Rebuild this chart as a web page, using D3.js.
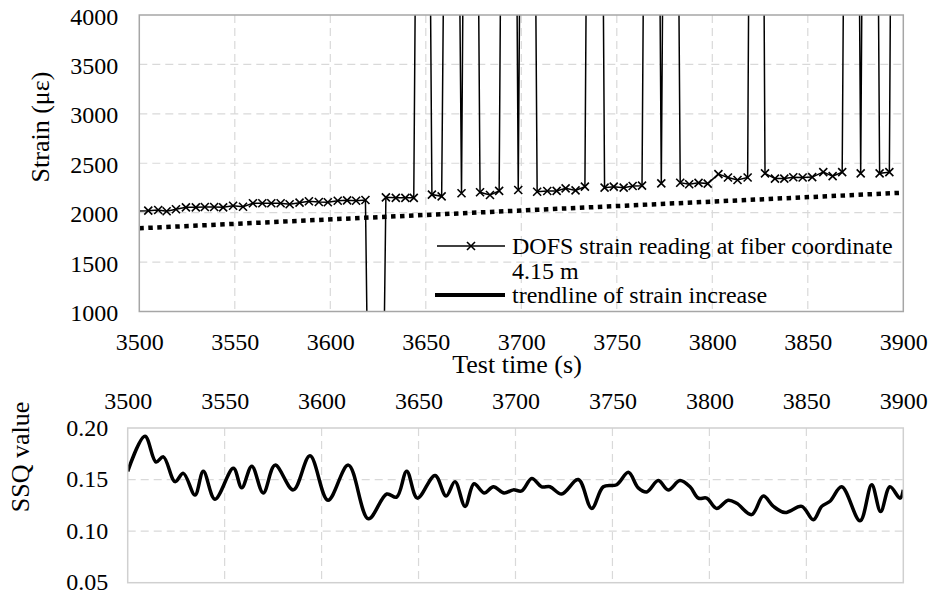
<!DOCTYPE html>
<html>
<head>
<meta charset="utf-8">
<script src="https://cdn.jsdelivr.net/npm/d3@7"></script>
<style>
  html, body { margin: 0; padding: 0; background: #fff; }
  svg { display: block; }
  svg text { font-family: "Liberation Serif", "Times New Roman", serif; fill: #000; }
</style>
</head>
<body>
<svg id="chart" width="928" height="595"></svg>
<script>
// Test time axis ticks (s)
const timeTicks = [3500, 3550, 3600, 3650, 3700, 3750, 3800, 3850, 3900];
const strainTicks = [1000, 1500, 2000, 2500, 3000, 3500, 4000];
const ssqTicks = [0.05, 0.10, 0.15, 0.20];

// DOFS strain reading at fiber coordinate 4.15 m (time in s, strain in µε)
const strainTime = [
  3499.8, 3504.7, 3509.9, 3514.3, 3519.2, 3524.4, 3529.6, 3534.3, 3539.2, 3543.9,
  3549.1, 3554.3, 3559.5, 3564.4, 3569.1, 3574.0, 3578.7, 3583.9, 3588.8, 3594.0,
  3598.7, 3603.9, 3608.8, 3613.5, 3618.4, 3623.8, 3629.1, 3634.3, 3639.3, 3643.7,
  3648.5, 3653.2, 3658.3, 3663.5, 3668.7, 3673.5, 3678.4, 3683.6, 3688.4, 3693.5,
  3698.4, 3703.3, 3708.3, 3713.6, 3718.5, 3723.2, 3728.4, 3733.3, 3738.4, 3743.6,
  3748.4, 3753.6, 3758.3, 3763.2, 3768.2, 3773.3, 3778.2, 3783.2, 3787.9, 3792.8,
  3797.6, 3803.2, 3808.2, 3813.2, 3818.5, 3823.1, 3827.6, 3832.8, 3837.7, 3842.4,
  3847.3, 3852.3, 3858.1, 3863.0, 3868.0, 3872.8, 3877.7, 3882.6, 3887.6, 3892.7,
  3897.5, 3902.3
];
const strainValue = [
  2018, 2020, 2027, 2014, 2034, 2054, 2054, 2057, 2057, 2054,
  2070, 2060, 2095, 2095, 2095, 2095, 2085, 2101, 2115, 2108,
  2105, 2121, 2125, 2121, 2128, -6200, 2155, 2150, 2150, 2150,
  14800, 2183, 2165, 13600, 2196, 15200, 2206, 2179, 2220, 16900,
  2229, 15800, 2212, 2219, 2220, 2246, 2225, 2263, 17400, 2253,
  2263, 2253, 2270, 2273, 16300, 2297, 15600, 2303, 2288, 2302,
  2294, 2390, 2356, 2330, 2356, 18100, 2398, 2345, 2345, 2358,
  2356, 2360, 2410, 2370, 2410, 15900, 2398, 16700, 2398, 2410,
  17800, 2410
];

// Linear trendline of strain increase (end points)
const trendTime = [3500, 3900];
const trendValue = [1842, 2202];

// SSQ value over the same time window
const ssqTime = [
  3500.0, 3508.9, 3514.6, 3518.4, 3524.4, 3528.7, 3534.7, 3539.0, 3545.0, 3554.5,
  3558.8, 3564.0, 3569.9, 3576.0, 3585.4, 3594.0, 3603.3, 3613.8, 3624.1, 3633.6,
  3638.7, 3643.9, 3649.4, 3658.5, 3664.2, 3668.8, 3674.0, 3678.6, 3683.8, 3688.6,
  3694.1, 3698.9, 3703.2, 3708.4, 3713.5, 3717.8, 3723.8, 3732.4, 3739.3, 3745.3,
  3752.2, 3758.2, 3763.3, 3767.7, 3773.6, 3778.8, 3784.8, 3790.0, 3794.3, 3798.6,
  3803.8, 3809.7, 3814.1, 3821.8, 3827.8, 3833.0, 3839.0, 3847.6, 3853.6, 3857.9,
  3862.2, 3868.2, 3877.7, 3883.7, 3888.3, 3893.1, 3898.3, 3900.0
];
const ssqValue = [
  0.158, 0.192, 0.167, 0.172, 0.148, 0.156, 0.135, 0.158, 0.131, 0.161,
  0.142, 0.163, 0.137, 0.164, 0.140, 0.173, 0.130, 0.164, 0.112, 0.136,
  0.133, 0.158, 0.132, 0.154, 0.134, 0.148, 0.124, 0.146, 0.137, 0.143,
  0.137, 0.140, 0.139, 0.151, 0.143, 0.143, 0.136, 0.150, 0.122, 0.143,
  0.145, 0.157, 0.142, 0.138, 0.149, 0.140, 0.149, 0.143, 0.132, 0.132,
  0.122, 0.130, 0.127, 0.116, 0.134, 0.124, 0.118, 0.124, 0.111, 0.124,
  0.129, 0.143, 0.110, 0.145, 0.119, 0.143, 0.132, 0.140
];

const svg = d3.select("#chart");
const FONT = 24;
const GRID = "#d9d9d9";
const SERIF = "'Liberation Serif', 'Times New Roman', serif";
const defs = svg.append("defs");

function styleAxis(a) {
  a.attr("font-family", null).attr("font-size", null);
  a.select(".domain").remove();
  a.selectAll("text")
    .style("font-family", SERIF)
    .style("font-size", FONT + "px")
    .attr("fill", "#000");
}

// ---------- Upper panel: strain ----------
const upper = { left: 139.3, right: 903.3, top: 15, bottom: 311.5 };
const xTop = d3.scaleLinear().domain([3500, 3900]).range([upper.left, upper.right]);
const yTop = d3.scaleLinear().domain([1000, 4000]).range([upper.bottom, upper.top]);

defs.append("clipPath").attr("id", "clipTop")
  .append("rect").attr("x", upper.left).attr("y", upper.top)
  .attr("width", upper.right - upper.left).attr("height", upper.bottom - upper.top);

const gTop = svg.append("g");

// gridlines
gTop.append("g").selectAll("line").data(strainTicks.slice(1, -1)).join("line")
  .attr("x1", upper.left).attr("x2", upper.right)
  .attr("y1", d => yTop(d)).attr("y2", d => yTop(d))
  .attr("stroke", GRID).attr("stroke-width", 1.2).attr("stroke-dasharray", "8,5");
gTop.append("g").selectAll("line").data(timeTicks.slice(1, -1)).join("line")
  .attr("y1", upper.top).attr("y2", upper.bottom)
  .attr("x1", d => xTop(d)).attr("x2", d => xTop(d))
  .attr("stroke", GRID).attr("stroke-width", 1.2).attr("stroke-dasharray", "8,5");

// axes
const axTopX = gTop.append("g").attr("transform", `translate(0,${upper.bottom})`)
  .call(d3.axisBottom(xTop).tickValues(timeTicks).tickSize(0).tickPadding(21).tickFormat(d3.format("d")));
const axTopY = gTop.append("g").attr("transform", `translate(${upper.left},0)`)
  .call(d3.axisLeft(yTop).tickValues(strainTicks).tickSize(0).tickPadding(21).tickFormat(d3.format("d")));
styleAxis(axTopX);
styleAxis(axTopY);
axTopY.selectAll("text").attr("dy", "0.38em");

// trendline
const trendPts = trendTime.map((t, i) => [t, trendValue[i]]);
gTop.append("path")
  .datum(trendPts)
  .attr("clip-path", "url(#clipTop)")
  .attr("d", d3.line().x(d => xTop(d[0])).y(d => yTop(d[1])))
  .attr("fill", "none").attr("stroke", "#000")
  .attr("stroke-width", 4.5).attr("stroke-dasharray", "4.5,4.5");

// strain series
const strainPts = strainTime.map((t, i) => [t, strainValue[i]]);
gTop.append("path")
  .datum(strainPts)
  .attr("clip-path", "url(#clipTop)")
  .attr("d", d3.line().x(d => xTop(d[0])).y(d => yTop(d[1])))
  .attr("fill", "none").attr("stroke", "#000").attr("stroke-width", 1.5);

const crossPath = "M-4,-4L4,4M-4,4L4,-4";
gTop.append("g").selectAll("path")
  .data(strainPts.filter(d => d[0] >= 3500 && d[0] <= 3900 && d[1] >= 1000 && d[1] <= 4000))
  .join("path")
  .attr("transform", d => `translate(${xTop(d[0])},${yTop(d[1])})`)
  .attr("d", crossPath).attr("stroke", "#000").attr("stroke-width", 1.6).attr("fill", "none");

// plot border
gTop.append("rect")
  .attr("x", upper.left).attr("y", upper.top)
  .attr("width", upper.right - upper.left).attr("height", upper.bottom - upper.top)
  .attr("fill", "none").attr("stroke", "#a6a6a6").attr("stroke-width", 1.5);

// axis titles
svg.append("text")
  .attr("transform", "translate(49,127) rotate(-90)")
  .attr("text-anchor", "middle").style("font-size", "26px").text("Strain (με)");
svg.append("text")
  .attr("x", 517).attr("y", 373).attr("text-anchor", "middle")
  .style("font-size", "26px").text("Test time (s)");

// legend
const leg = svg.append("g");
leg.append("line").attr("x1", 437).attr("x2", 505).attr("y1", 246).attr("y2", 246)
  .attr("stroke", "#000").attr("stroke-width", 1.5);
leg.append("path").attr("transform", "translate(471,246)").attr("d", crossPath)
  .attr("stroke", "#000").attr("stroke-width", 1.6);
leg.append("text").attr("x", 512).attr("y", 254).style("font-size", FONT + "px")
  .text("DOFS strain reading at fiber coordinate");
leg.append("text").attr("x", 512).attr("y", 279).style("font-size", FONT + "px").text("4.15 m");
leg.append("line").attr("x1", 435).attr("x2", 505).attr("y1", 295).attr("y2", 295)
  .attr("stroke", "#000").attr("stroke-width", 4);
leg.append("text").attr("x", 512).attr("y", 303).style("font-size", FONT + "px")
  .text("trendline of strain increase");

// ---------- Lower panel: SSQ ----------
const lower = { left: 127.7, right: 903.3, top: 428, bottom: 582.7 };
const xBot = d3.scaleLinear().domain([3500, 3900]).range([lower.left, lower.right]);
const yBot = d3.scaleLinear().domain([0.05, 0.20]).range([lower.bottom, lower.top]);

defs.append("clipPath").attr("id", "clipBot")
  .append("rect").attr("x", lower.left).attr("y", lower.top)
  .attr("width", lower.right - lower.left).attr("height", lower.bottom - lower.top);

const gBot = svg.append("g");
gBot.append("g").selectAll("line").data(ssqTicks.slice(1, -1)).join("line")
  .attr("x1", lower.left).attr("x2", lower.right)
  .attr("y1", d => yBot(d)).attr("y2", d => yBot(d))
  .attr("stroke", GRID).attr("stroke-width", 1.2).attr("stroke-dasharray", "8,5");
gBot.append("g").selectAll("line").data(timeTicks.slice(1, -1)).join("line")
  .attr("y1", lower.top).attr("y2", lower.bottom)
  .attr("x1", d => xBot(d)).attr("x2", d => xBot(d))
  .attr("stroke", GRID).attr("stroke-width", 1.2).attr("stroke-dasharray", "8,5");

const axBotX = gBot.append("g").attr("transform", `translate(0,${lower.top})`)
  .call(d3.axisTop(xBot).tickValues(timeTicks).tickSize(0).tickPadding(19.5).tickFormat(d3.format("d")));
const axBotY = gBot.append("g").attr("transform", `translate(${lower.left},0)`)
  .call(d3.axisLeft(yBot).tickValues(ssqTicks).tickSize(0).tickPadding(19.5).tickFormat(d3.format(".2f")));
styleAxis(axBotX);
styleAxis(axBotY);
axBotY.selectAll("text").attr("dy", "0.3em");

const ssqPts = ssqTime.map((t, i) => [t, ssqValue[i]]);
gBot.append("path")
  .datum(ssqPts)
  .attr("clip-path", "url(#clipBot)")
  .attr("d", d3.line().curve(d3.curveCatmullRom.alpha(0.5)).x(d => xBot(d[0])).y(d => yBot(d[1])))
  .attr("fill", "none").attr("stroke", "#000").attr("stroke-width", 3.5)
  .attr("stroke-linejoin", "round");

gBot.append("rect")
  .attr("x", lower.left).attr("y", lower.top)
  .attr("width", lower.right - lower.left).attr("height", lower.bottom - lower.top)
  .attr("fill", "none").attr("stroke", "#d0d0d0").attr("stroke-width", 1.5);

svg.append("text")
  .attr("transform", "translate(29,457) rotate(-90)")
  .attr("text-anchor", "middle").style("font-size", "26px").text("SSQ value");
</script>
</body>
</html>
